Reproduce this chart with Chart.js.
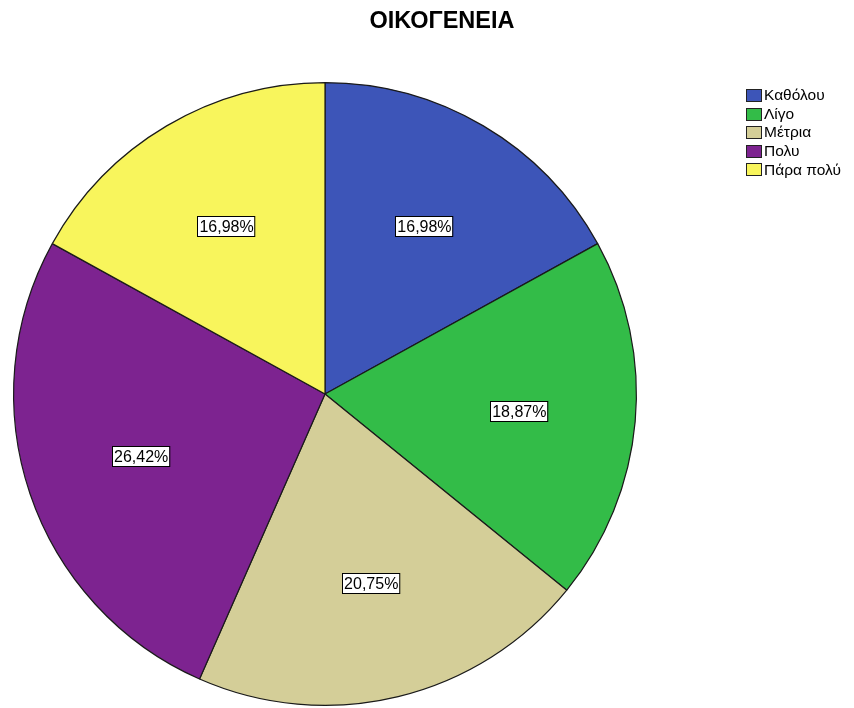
<!DOCTYPE html>
<html>
<head>
<meta charset="utf-8">
<script src="https://cdn.jsdelivr.net/npm/chart.js@4"></script>
<style>
  html, body { margin: 0; padding: 0; background: #fff; }
  #wrap { width: 854px; height: 708px; position: relative; }
</style>
</head>
<body>
<div id="wrap"><canvas id="pie" width="854" height="708"></canvas></div>
<script>
const title = "ΟΙΚΟΓΕΝΕΙΑ";
const labels = ["Καθόλου", "Λίγο", "Μέτρια", "Πολυ", "Πάρα πολύ"];
const percents = [16.98, 18.87, 20.75, 26.42, 16.98];
const colors = ["#3D55B8", "#33BC48", "#D4CE98", "#7D2390", "#F8F55C"];

// title, legend and slice percentage boxes
const extras = {
  id: "extras",
  afterDatasetsDraw(chart) {
    const ctx = chart.ctx;
    ctx.save();
    ctx.fillStyle = "#000";
    ctx.font = "bold 23.5px 'Liberation Sans', Arial, sans-serif";
    ctx.textAlign = "center";
    ctx.textBaseline = "middle";
    ctx.fillText(title, 442, 22);

    // legend
    ctx.font = "15.5px 'Liberation Sans', Arial, sans-serif";
    ctx.textAlign = "left";
    labels.forEach((lab, i) => {
      let y = 95 + i * 18.6;
      ctx.fillStyle = colors[i];
      ctx.fillRect(746, Math.round(y) - 6, 15, 12);
      ctx.strokeStyle = "#222";
      ctx.lineWidth = 1;
      ctx.strokeRect(746.5, Math.round(y) - 5.5, 15, 12);
      ctx.fillStyle = "#000";
      ctx.fillText(lab, 764, y + 1);
    });

    // percentage labels
    const meta = chart.getDatasetMeta(0);
    ctx.font = "16px 'Liberation Sans', Arial, sans-serif";
    ctx.textAlign = "center";
    meta.data.forEach((arc, i) => {
      const p = arc.getProps(["x", "y", "startAngle", "endAngle", "outerRadius"], true);
      const mid = (p.startAngle + p.endAngle) / 2;
      const r = p.outerRadius * 0.625;
      const x = p.x + Math.cos(mid) * r;
      const y = p.y + Math.sin(mid) * r;
      const txt = percents[i].toFixed(2).replace(".", ",") + "%";
      const w = ctx.measureText(txt).width + 3;
      const h = 20;
      ctx.fillStyle = "#fff";
      ctx.fillRect(Math.round(x - w / 2), Math.round(y - h / 2), w, h);
      ctx.strokeStyle = "#000";
      ctx.strokeRect(Math.round(x - w / 2) + 0.5, Math.round(y - h / 2) + 0.5, w, h);
      ctx.fillStyle = "#000";
      ctx.fillText(txt, x + 0.5, y + 1);
    });
    ctx.restore();
  }
};

new Chart(document.getElementById("pie"), {
  type: "pie",
  data: {
    labels: labels,
    datasets: [{
      data: percents,
      backgroundColor: colors,
      borderColor: "#1a1a1a",
      borderWidth: 1.2
    }]
  },
  options: {
    responsive: false,
    animation: false,
    layout: { padding: { left: 13, right: 217, top: 82, bottom: 2 } },
    plugins: {
      legend: { display: false },
      tooltip: { enabled: false }
    }
  },
  plugins: [extras]
});
</script>
</body>
</html>
